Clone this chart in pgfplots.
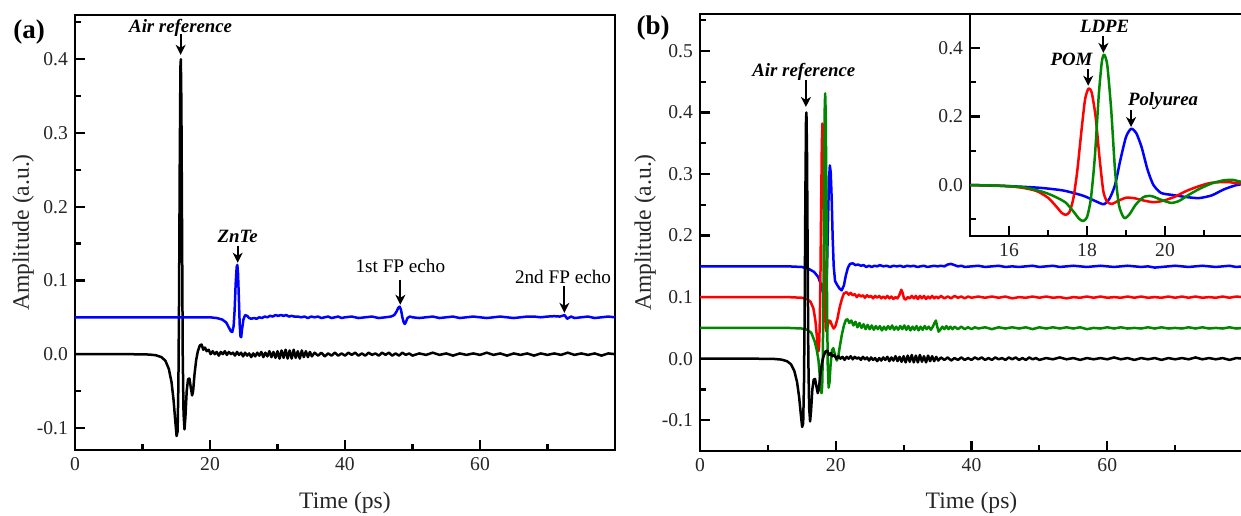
\documentclass[border=0pt]{standalone}
\usepackage{fontspec}
\setmainfont{Liberation Serif}
\usepackage{pgfplots}
\pgfplotsset{compat=1.18}
\usepackage{pgfplotstable}
\usetikzlibrary{arrows.meta}

\definecolor{cgreen}{RGB}{0,135,0}
\newcommand\annot{\fontsize{9.4}{11}\selectfont\bfseries\itshape}

% air reference pulse (absolute)
\pgfplotstableread{
t v
0 0
8 0
11 -0.0005
12 -0.0015
12.8 -0.004
13.4 -0.009
13.9 -0.02
14.3 -0.038
14.6 -0.062
14.85 -0.09
15.05 -0.111
15.2 -0.105
15.32 -0.04
15.42 0.08
15.52 0.26
15.62 0.39
15.68 0.40
15.76 0.34
15.86 0.17
15.96 0.0
16.08 -0.08
16.22 -0.102
16.36 -0.085
16.55 -0.05
16.75 -0.034
16.95 -0.033
17.15 -0.045
17.35 -0.056
17.5 -0.05
17.7 -0.028
17.95 -0.008
18.2 0.004
18.5 0.012
18.75 0.013
19.0 0.006
19.25 0.009
19.5 0.004
19.8 0.006
20.1 0.0
20.4 0.004
20.7 0.0
21.0 0.003
21.3 -0.002
21.6 0.003
21.9 0.0
22.2 0.004
22.5 -0.001
22.8 0.003
23.1 0.0
23.4 0.002
23.7 -0.002
24.0 0.003
24.3 -0.001
24.6 0.002
24.9 -0.003
25.2 0.002
25.5 -0.002
25.8 0.001
26.1 -0.004
26.4 0.001
26.7 -0.003
27.0 0.002
27.3 -0.002
27.6 0.003
27.9 -0.004
28.2 0.002
28.5 -0.003
28.8 0.004
29.1 -0.004
29.4 0.003
29.7 -0.005
30.0 0.004
30.3 -0.006
30.6 0.005
30.9 -0.005
31.2 0.006
31.5 -0.006
31.8 0.005
32.1 -0.006
32.4 0.006
32.7 -0.005
33.0 0.004
33.3 -0.006
33.6 0.005
33.9 -0.004
34.2 0.004
34.5 -0.004
34.8 0.003
35.1 -0.003
35.5 0.002
36.0 -0.002
36.5 0.002
37.0 -0.003
37.5 0.001
38.0 -0.002
38.5 0.002
39.0 -0.002
39.5 0.001
40.0 -0.002
40.5 0.002
41.0 -0.001
41.5 0.002
42.0 -0.002
42.5 0.001
43.0 -0.002
43.5 0.002
44.0 -0.001
44.5 0.001
45.0 -0.002
45.5 0.002
46.0 -0.001
46.5 0.002
47.0 -0.002
47.5 0.001
48.0 -0.002
48.5 0.002
49 -0.001
49.5 0.001
50 -0.002
51 0.001
52 -0.001
53 0.002
54 -0.001
55 0.001
56 -0.002
57 0.001
58 -0.001
59 0.001
60 -0.001
61 0.002
62 -0.001
63 0.001
64 -0.002
65 0.001
66 -0.001
67 0.001
68 -0.002
69 0.001
70 -0.001
71 0.001
72 -0.001
73 0.002
74 -0.001
75 0.001
76 -0.001
77 0.001
78 -0.002
79 0.001
80 0
}\tblack

% ZnTe, relative to 0.05 offset
\pgfplotstableread{
t v
0 0
20 0
21 -0.001
21.8 -0.003
22.4 -0.007
22.8 -0.014
23.1 -0.019
23.3 -0.02
23.5 -0.012
23.65 0.01
23.8 0.045
23.95 0.068
24.05 0.071
24.15 0.06
24.28 0.025
24.4 -0.01
24.52 -0.026
24.62 -0.027
24.75 -0.016
24.95 -0.003
25.2 0.003
25.5 0.002
25.8 -0.001
26.1 -0.002
26.5 -0.001
26.9 -0.002
27.3 0.0
27.7 -0.001
28.1 0.001
28.5 0.0
28.9 0.002
29.3 0.001
29.7 0.003
30.1 0.002
30.5 0.003
30.9 0.002
31.3 0.003
31.7 0.001
32.1 0.002
32.5 0.001
33 0.001
33.5 0.0
34 0.001
34.5 -0.001
35 0.001
35.5 0.0
36 0.001
36.5 -0.001
37 0.0
37.5 0.001
38 -0.001
38.5 0.0
39 0.001
39.5 -0.001
40 0.0
41 0.001
42 -0.001
43 0.0
44 0.001
45 -0.001
46 0.0
46.8 0.001
47.3 0.003
47.65 0.008
47.9 0.013
48.1 0.0145
48.3 0.01
48.5 0.0
48.7 -0.007
48.85 -0.009
49.0 -0.007
49.25 -0.001
49.6 0.001
50 0.0
51 -0.001
52 0.0
53 0.001
54 -0.001
55 0.0
56 0.001
57 -0.001
58 0.0
59 0.001
60 0.0
61 -0.001
62 0.0
63 0.001
64 0.0
65 -0.001
66 0.0
67 0.001
68 0.001
69 0.0
70 0.001
71 0.0015
71.8 0.001
72.2 0.002
72.5 0.003
72.7 0.001
72.9 -0.002
73.1 -0.001
73.5 0.001
74 -0.001
75 0.0
76 0.001
77 -0.001
78 0.0
79 0.001
80 0.0
}\tznte

% POM, relative to 0.10 offset
\pgfplotstableread{
t v
0 0
13 0
15 -0.001
15.8 -0.003
16.3 -0.008
16.7 -0.018
17.0 -0.038
17.2 -0.062
17.35 -0.082
17.45 -0.088
17.55 -0.08
17.65 -0.04
17.75 0.04
17.85 0.15
17.95 0.25
18.04 0.282
18.12 0.27
18.22 0.2
18.32 0.08
18.42 -0.02
18.52 -0.05
18.64 -0.056
18.8 -0.047
19.0 -0.038
19.2 -0.039
19.45 -0.046
19.7 -0.051
19.95 -0.047
20.25 -0.035
20.55 -0.018
20.9 -0.003
21.2 0.006
21.6 0.008
21.9 0.004
22.2 0.007
22.5 0.003
22.8 0.005
23.1 0.0
23.4 0.004
23.7 0.001
24.0 0.003
24.3 -0.001
24.6 0.003
24.9 0.0
25.2 0.002
25.5 -0.002
25.8 0.002
26.1 -0.001
26.4 0.002
26.7 -0.002
27.0 0.001
27.3 -0.002
27.6 0.002
27.9 -0.002
28.2 0.001
28.5 -0.003
28.8 0.0
29.1 -0.002
29.4 0.004
29.65 0.012
29.85 0.007
30.05 -0.002
30.3 -0.004
30.6 0.0
30.9 -0.002
31.2 0.002
31.5 -0.002
31.8 0.002
32.1 -0.003
32.4 0.002
32.7 -0.002
33.0 0.002
33.3 -0.003
33.6 0.001
33.9 -0.002
34.2 0.002
34.5 -0.002
34.8 0.001
35.1 -0.002
35.5 0.002
36.0 -0.002
36.5 0.001
37.0 -0.002
37.5 0.002
38.0 -0.001
38.5 0.001
39.0 -0.002
39.5 0.001
40 -0.001
41 0.001
42 -0.001
43 0.001
44 -0.001
45 0.001
46 -0.002
47 0.0
48 -0.001
49 0.001
50 -0.001
51 0.001
52 -0.001
53 0.0
54 -0.002
55 0.0
56 -0.001
57 0.001
58 -0.001
59 0.001
60 -0.001
61 0.0
62 -0.001
63 0.001
64 -0.001
65 0.001
66 -0.001
67 0.0
68 -0.001
69 0.001
70 -0.001
71 0.001
72 -0.001
73 0.001
74 -0.001
75 0.0
76 -0.001
77 0.001
78 -0.001
79 0.001
80 0
}\tpom

% LDPE, relative to 0.05 offset
\pgfplotstableread{
t v
0 0
13 0
15 -0.001
15.8 -0.003
16.4 -0.008
16.9 -0.022
17.2 -0.036
17.45 -0.052
17.65 -0.078
17.8 -0.1
17.9 -0.106
18.0 -0.095
18.1 -0.04
18.2 0.08
18.3 0.26
18.38 0.36
18.44 0.381
18.52 0.35
18.62 0.22
18.72 0.04
18.82 -0.06
18.95 -0.097
19.08 -0.088
19.25 -0.058
19.45 -0.036
19.65 -0.033
19.9 -0.044
20.15 -0.053
20.35 -0.048
20.6 -0.03
20.9 -0.011
21.2 0.004
21.5 0.013
21.75 0.014
22.0 0.008
22.3 0.012
22.6 0.004
22.9 0.01
23.2 0.001
23.5 0.008
23.8 0.0
24.1 0.006
24.4 -0.002
24.7 0.005
25.0 -0.002
25.3 0.004
25.6 -0.003
25.9 0.003
26.2 -0.002
26.5 0.003
26.8 -0.004
27.1 0.002
27.4 -0.003
27.7 0.003
28.0 -0.002
28.3 0.004
28.6 -0.003
28.9 0.002
29.2 -0.003
29.5 0.003
29.8 -0.002
30.1 0.004
30.4 -0.003
30.7 0.003
31.0 -0.004
31.3 0.002
31.6 -0.003
31.9 0.003
32.2 -0.004
32.5 0.002
32.8 -0.003
33.1 0.003
33.4 -0.002
33.7 0.002
34.0 -0.003
34.3 0.002
34.55 0.008
34.75 0.012
34.95 0.002
35.15 -0.006
35.4 -0.003
35.7 0.002
36.0 -0.002
36.3 0.003
36.6 -0.002
36.9 0.002
37.2 -0.002
37.5 0.002
38.0 -0.002
38.5 0.002
39.0 -0.002
39.5 0.001
40 -0.002
40.5 0.001
41 -0.001
42 0.001
43 -0.002
44 0.001
45 -0.001
46 0.001
47 -0.001
48 0.001
49 -0.002
50 0.001
51 -0.001
52 0.001
53 -0.001
54 0.001
55 -0.001
56 0.001
57 -0.002
58 0.0
59 -0.001
60 0.001
61 -0.001
62 0.001
63 -0.001
64 0.0
65 -0.001
66 0.001
67 -0.001
68 0.001
69 -0.001
70 0.0
71 -0.001
72 0.001
73 -0.001
74 0.001
75 -0.001
76 0.0
77 -0.001
78 0.001
79 -0.001
80 0
}\tldpe

% Polyurea, relative to 0.15 offset
\pgfplotstableread{
t v
0 0
13 0
15 -0.001
16 -0.004
16.8 -0.009
17.4 -0.017
17.9 -0.032
18.2 -0.047
18.43 -0.057
18.58 -0.04
18.72 0.0
18.86 0.075
19.0 0.14
19.13 0.164
19.26 0.152
19.4 0.11
19.55 0.045
19.7 0.0
19.9 -0.024
20.2 -0.03
20.55 -0.036
20.87 -0.039
21.2 -0.031
21.5 -0.014
21.8 -0.002
22.1 0.004
22.5 0.005
22.9 0.002
23.3 0.003
23.7 0.001
24.1 0.002
24.5 -0.001
24.9 0.001
25.3 -0.001
25.7 0.001
26.1 0.0
26.5 0.002
27.0 0.0
27.5 0.001
28.0 -0.001
28.5 0.001
29.0 0.0
29.5 0.001
30.0 -0.001
30.5 0.001
31 0.0
31.5 0.001
32 -0.001
32.5 0.0
33 0.001
33.5 -0.001
34 0.0
34.5 0.001
35 0.0
35.5 0.001
36 0.0
36.5 0.003
37.0 0.004
37.5 0.002
38 0.0
38.5 0.001
39 -0.001
40 0.0
41 0.001
42 -0.001
43 0.0
44 0.001
45 -0.001
46 0.0
47 -0.001
48 0.0
49 0.001
50 -0.001
51 0.0
52 0.001
53 -0.001
54 0.0
55 0.001
56 0.0
57 -0.001
58 0.0
59 0.001
60 0.0
61 -0.001
62 0.0
63 0.001
64 0.0
65 -0.001
66 0.0
67 -0.002
68 -0.001
69 0.0
70 0.001
71 0.0
72 -0.001
73 0.0
74 0.001
75 0.0
76 -0.001
77 0.0
78 0.001
79 -0.001
80 0
}\tpu

\pgfplotsset{
  panel/.style={
    scale only axis,
    axis line style={line width=1pt},
    tick pos=left, tick align=inside,
    ticklabel style={font=\fontsize{9.8}{11}\selectfont, text=black!85},
    label style={font=\fontsize{11.8}{13}\selectfont, text=black!85},
    /pgf/number format/assume math mode=true,
    yticklabel style={/pgf/number format/fixed, /pgf/number format/zerofill,
      /pgf/number format/precision=1},
    every axis plot/.append style={line width=1.25pt, line join=round},
  },
}
\tikzset{arr/.style={line width=1.1pt, -{Stealth[length=5pt,width=5pt,inset=1.5pt]}}}

\begin{document}
\begin{tikzpicture}
\useasboundingbox (0pt,0pt) rectangle (620.5pt,257.5pt);

% ---- panel (a)
\begin{axis}[panel,
  at={(37.5pt,32.5pt)}, anchor=south west,
  width=270pt, height=217.5pt,
  xmin=0, xmax=80, ymin=-0.13, ymax=0.46,
  xtick={0,20,40,60}, minor xtick={10,30,50,70},
  ytick={-0.1,0,0.1,0.2,0.3,0.4}, minor ytick={-0.05,0.05,0.15,0.25,0.35,0.45},
  tick style={line width=1.1pt, black}, major tick length=5pt, minor tick length=3pt,
  xlabel={Time (ps)}, ylabel={Amplitude (a.u.)},
  xlabel style={at={(axis description cs:0.5,-0.122)}, anchor=center},
  ylabel style={at={(axis description cs:-0.096,0.5)}, anchor=center},
]
\addplot[black] table[x=t, y=v] {\tblack};
\addplot[blue] table[x=t, y expr=\thisrow{v}+0.05] {\tznte};
\node[font=\annot] at (15.65,0.443) {Air reference};
\draw[arr] (15.65,0.434) -- (15.65,0.406);
\node[font=\annot] at (24.1,0.159) {ZnTe};
\draw[arr] (24.1,0.147) -- (24.1,0.124);
\node[font=\fontsize{9.6}{11}\selectfont] at (48.2,0.119) {1st FP echo};
\draw[arr] (48.2,0.101) -- (48.2,0.067);
\node[font=\fontsize{9.6}{11}\selectfont] at (72.3,0.105) {2nd FP echo};
\draw[arr] (72.5,0.092) -- (72.5,0.056);
\end{axis}

% ---- panel (b)
\begin{axis}[panel,
  at={(350pt,32pt)}, anchor=south west,
  width=271.5pt, height=218.5pt,
  xmin=0, xmax=80, ymin=-0.15, ymax=0.56,
  xtick={0,20,40,60}, minor xtick={10,30,50,70},
  ytick={-0.1,0,0.1,0.2,0.3,0.4,0.5}, minor ytick={-0.05,0.05,0.15,0.25,0.35,0.45,0.55},
  tick style={line width=1.1pt, black}, major tick length=5pt, minor tick length=3pt,
  xlabel={Time (ps)}, ylabel={Amplitude (a.u.)},
  xlabel style={at={(axis description cs:0.5,-0.119)}, anchor=center},
  ylabel style={at={(axis description cs:-0.101,0.5)}, anchor=center},
]
\addplot[blue] table[x=t, y expr=\thisrow{v}+0.15] {\tpu};
\addplot[red] table[x=t, y expr=\thisrow{v}+0.10] {\tpom};
\addplot[cgreen] table[x=t, y expr=\thisrow{v}+0.05] {\tldpe};
\addplot[black] table[x=t, y=v] {\tblack};
\node[font=\annot] at (15.3,0.466) {Air reference};
\draw[arr] (15.6,0.453) -- (15.6,0.409);
\end{axis}

% ---- inset
\begin{axis}[panel,
  at={(485pt,139.5pt)}, anchor=south west,
  width=136.5pt, height=111pt,
  axis background/.style={fill=white},
  xmin=15, xmax=22, ymin=-0.15, ymax=0.5,
  xtick={16,18,20}, minor xtick={17,19,21},
  ytick={0,0.2,0.4}, minor ytick={-0.1,0.1,0.3},
  tick style={line width=1.1pt, black}, major tick length=5pt, minor tick length=3pt,
  every axis plot/.append style={smooth, tension=0.4},
]
\addplot[blue] table[x=t, y=v] {\tpu};
\addplot[red] table[x=t, y=v] {\tpom};
\addplot[cgreen] table[x=t, y=v] {\tldpe};
\node[font=\annot] at (18.45,0.463) {LDPE};
\draw[arr] (18.42,0.436) -- (18.42,0.386);
\node[font=\annot] at (17.6,0.366) {POM};
\draw[arr] (18.03,0.339) -- (18.03,0.29);
\node[font=\annot] at (19.95,0.245) {Polyurea};
\draw[arr] (19.13,0.218) -- (19.13,0.169);
\end{axis}

\node[font=\fontsize{13.5}{15}\selectfont\bfseries] at (14.5pt,241.5pt) {(a)};
\node[font=\fontsize{13.5}{15}\selectfont\bfseries] at (326.5pt,243.5pt) {(b)};
\end{tikzpicture}
\end{document}
